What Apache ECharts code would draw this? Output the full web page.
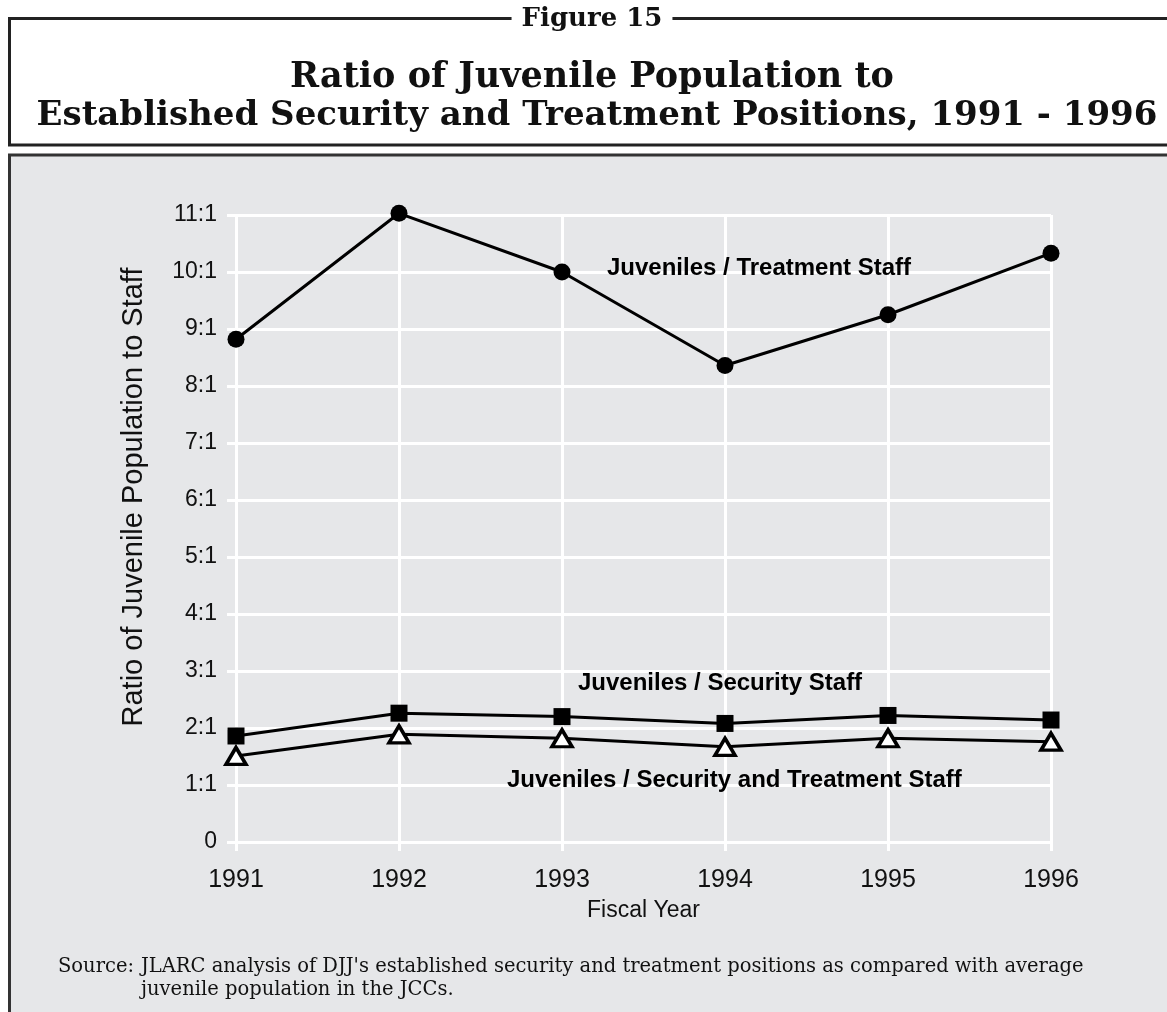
<!DOCTYPE html>
<html>
<head>
<meta charset="utf-8">
<script src="https://cdn.jsdelivr.net/npm/echarts@6/dist/echarts.min.js"></script>
<style>
  html, body { margin: 0; padding: 0; background: #ffffff; }
  #chart { width: 1167px; height: 1012px; }
</style>
</head>
<body>
<div id="chart"></div>
<script>
// Fiscal years on the x axis
const years = ['1991', '1992', '1993', '1994', '1995', '1996'];

// Juveniles per staff position (ratio N:1)
const treatmentRatio = [8.82, 11.03, 10.0, 8.36, 9.25, 10.33];
const securityRatio = [1.86, 2.26, 2.2, 2.08, 2.22, 2.14];
const combinedRatio = [1.51, 1.89, 1.82, 1.67, 1.82, 1.76];

// Y axis range and step
const yMin = 0;
const yMax = 11;
const yStep = 1;

const SANS = '"Liberation Sans", Arial, sans-serif';
const SERIF = '"DejaVu Serif", "Liberation Serif", serif';
const PANEL = '#e6e7e9';
const INK = '#111111';

const chart = echarts.init(document.getElementById('chart'), null, { renderer: 'canvas' });

const ratioLabel = v => (v === 0 ? '0' : v + ':1');

const TOP = 100; // draw annotation text above the grid lines

chart.setOption({
  backgroundColor: PANEL,
  animation: false,
  grid: { left: 236, right: 116, top: 215, bottom: 170, containLabel: false },
  xAxis: {
    type: 'category',
    data: years,
    boundaryGap: false,
    axisLine: { show: false },
    axisTick: { show: true, length: 9, lineStyle: { color: '#ffffff', width: 3 } },
    axisLabel: { color: INK, fontFamily: SANS, fontSize: 25, margin: 26 },
    splitLine: { show: true, lineStyle: { color: '#ffffff', width: 3 } },
    name: 'Fiscal Year',
    nameLocation: 'middle',
    nameGap: 57,
    nameTextStyle: { color: INK, fontFamily: SANS, fontSize: 23 }
  },
  yAxis: {
    type: 'value',
    min: yMin,
    max: yMax,
    interval: yStep,
    axisLine: { show: false },
    axisTick: { show: true, length: 9, lineStyle: { color: '#ffffff', width: 3 } },
    axisLabel: { color: INK, fontFamily: SANS, fontSize: 23, margin: 19, formatter: ratioLabel },
    splitLine: { show: true, lineStyle: { color: '#ffffff', width: 3 } }
  },
  series: [
    {
      name: 'Juveniles / Treatment Staff',
      type: 'line',
      data: treatmentRatio,
      clip: false,
      symbol: 'circle',
      symbolSize: 17,
      lineStyle: { color: '#000000', width: 3 },
      itemStyle: { color: '#000000' },
      z: 3
    },
    {
      name: 'Juveniles / Security Staff',
      type: 'line',
      data: securityRatio,
      clip: false,
      symbol: 'rect',
      symbolSize: 17,
      lineStyle: { color: '#000000', width: 3 },
      itemStyle: { color: '#000000' },
      z: 3
    },
    {
      name: 'Juveniles / Security and Treatment Staff',
      type: 'line',
      data: combinedRatio,
      clip: false,
      symbol: 'triangle',
      symbolSize: [20, 17],
      lineStyle: { color: '#000000', width: 3 },
      itemStyle: { color: '#ffffff', borderColor: '#000000', borderWidth: 3.5 },
      z: 4
    }
  ],
  graphic: [
    // white page around the shaded panel
    { type: 'rect', shape: { x: 0, y: 0, width: 1167, height: 154 }, style: { fill: '#ffffff' }, silent: true },
    { type: 'rect', shape: { x: 0, y: 0, width: 8, height: 1012 }, style: { fill: '#ffffff' }, silent: true },
    // title box
    { type: 'polyline', shape: { points: [[1170, 18.5], [9.5, 18.5], [9.5, 145], [1170, 145]] },
      style: { stroke: '#222222', lineWidth: 3, fill: null }, silent: true },
    // panel border (top and left)
    { type: 'polyline', shape: { points: [[1170, 155], [9.5, 155], [9.5, 1020]] },
      style: { stroke: '#333333', lineWidth: 3, fill: null }, silent: true },
    // figure number sitting on the top rule
    { type: 'text', x: 592, y: 19, z: TOP, style: {
        text: 'Figure 15', fontFamily: SERIF, fontWeight: 'bold', fontSize: 26, fill: INK,
        align: 'center', verticalAlign: 'middle', backgroundColor: '#ffffff', padding: [0, 10] } },
    // chart title
    { type: 'text', x: 592, y: 78, z: TOP, style: {
        text: 'Ratio of Juvenile Population to', fontFamily: SERIF, fontWeight: 'bold', fontSize: 35,
        fill: INK, align: 'center', verticalAlign: 'middle' } },
    { type: 'text', x: 597, y: 116, z: TOP, style: {
        text: 'Established Security and Treatment Positions, 1991 - 1996', fontFamily: SERIF,
        fontWeight: 'bold', fontSize: 34, fill: INK, align: 'center', verticalAlign: 'middle' } },
    // y axis title
    { type: 'text', x: 134, y: 497, rotation: Math.PI / 2, z: TOP, style: {
        text: 'Ratio of Juvenile Population to Staff', fontFamily: SANS, fontSize: 29, fill: INK,
        align: 'center', verticalAlign: 'middle' } },
    // series labels
    { type: 'text', x: 607, y: 268, z: TOP, style: {
        text: 'Juveniles / Treatment Staff', fontFamily: SANS, fontWeight: 'bold', fontSize: 24,
        fill: '#000000', align: 'left', verticalAlign: 'middle' } },
    { type: 'text', x: 578, y: 683, z: TOP, style: {
        text: 'Juveniles / Security Staff', fontFamily: SANS, fontWeight: 'bold', fontSize: 24,
        fill: '#000000', align: 'left', verticalAlign: 'middle' } },
    { type: 'text', x: 507, y: 780, z: TOP, style: {
        text: 'Juveniles / Security and Treatment Staff', fontFamily: SANS, fontWeight: 'bold', fontSize: 24,
        fill: '#000000', align: 'left', verticalAlign: 'middle' } },
    // source note
    { type: 'text', x: 58, y: 967, z: TOP, style: {
        text: 'Source:', fontFamily: SERIF, fontSize: 19.5, fill: INK, align: 'left', verticalAlign: 'middle' } },
    { type: 'text', x: 141, y: 967, z: TOP, style: {
        text: "JLARC analysis of DJJ's established security and treatment positions as compared with average",
        fontFamily: SERIF, fontSize: 19.5, fill: INK, align: 'left', verticalAlign: 'middle' } },
    { type: 'text', x: 141, y: 990, z: TOP, style: {
        text: 'juvenile population in the JCCs.', fontFamily: SERIF, fontSize: 19.5, fill: INK,
        align: 'left', verticalAlign: 'middle' } }
  ]
});
</script>
</body>
</html>
